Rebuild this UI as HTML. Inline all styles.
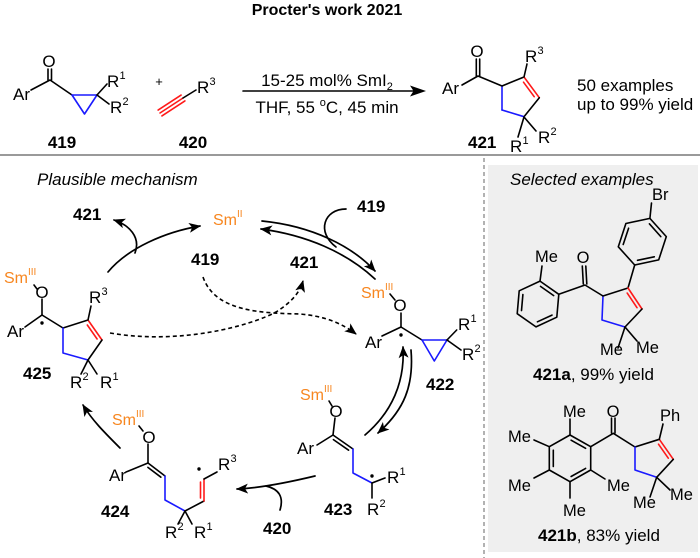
<!DOCTYPE html>
<html>
<head>
<meta charset="utf-8">
<style>
  html, body { margin: 0; padding: 0; background: #ffffff; }
  body { width: 700px; height: 558px; overflow: hidden; }
  svg { display: block; }
  text { font-family: "Liberation Sans", Arial, sans-serif; }
  .b { font-weight: bold; }
  .sm { fill: #f7861f; }
</style>
</head>
<body>
<svg width="700" height="558" viewBox="0 0 700 558" xmlns="http://www.w3.org/2000/svg">
  <defs>
    <marker id="ah" viewBox="0 0 12 10" refX="11" refY="5" markerWidth="12" markerHeight="10" markerUnits="userSpaceOnUse" orient="auto">
      <path d="M0,0 L12,5 L0,10 L3,5 z" fill="#000"/>
    </marker>
  </defs>

  <!-- right panel background -->
  <rect x="488" y="165" width="210" height="387" fill="#efefef"/>
  <line x1="484" y1="158" x2="484" y2="558" stroke="#888" stroke-width="1.3" stroke-dasharray="4 3"/>
  <!-- separator -->
  <line x1="0" y1="155" x2="700" y2="155" stroke="#9a9a9a" stroke-width="2"/>

  <!-- Title -->
  <text x="327" y="15" font-size="16" class="b" text-anchor="middle">Procter's work 2021</text>

  <!-- ================= TOP REACTION ================= -->
  <g stroke="#000" stroke-width="1.6" fill="none" stroke-linejoin="round" stroke-linecap="round">
    <!-- 419 -->
    <polyline points="31,90 50,80 72,95"/>
    <line x1="48" y1="69" x2="48" y2="80"/>
    <line x1="51.5" y1="69" x2="51.5" y2="80"/>
    <polygon points="72,95 97,95 84.5,114" stroke="#1a1aff"/>
    <line x1="97" y1="95" x2="107" y2="84"/>
    <line x1="97" y1="95" x2="109" y2="104"/>
    <!-- 420 -->
    <line x1="160" y1="113" x2="183" y2="98" stroke="#ff1a1a"/>
    <line x1="158.1" y1="110.1" x2="181.1" y2="95.1" stroke="#ff1a1a"/>
    <line x1="161.9" y1="115.9" x2="184.9" y2="100.9" stroke="#ff1a1a"/>
    <line x1="183" y1="98" x2="196" y2="90"/>
    <!-- reaction arrow -->
    <line x1="243" y1="91" x2="414" y2="91"/>
    <!-- 421 -->
    <polyline points="462,85 478,76 502,86"/>
    <line x1="476.3" y1="59" x2="476.3" y2="76"/>
    <line x1="479.7" y1="59" x2="479.7" y2="76"/>
    <line x1="502" y1="110" x2="502" y2="86" stroke="#1a1aff"/>
    <line x1="502" y1="86" x2="524" y2="77"/>
    <line x1="524" y1="77" x2="539.3" y2="97.7" stroke="#ff1a1a"/>
    <line x1="523.5" y1="82.2" x2="534.2" y2="96.7" stroke="#ff1a1a"/>
    <line x1="539.3" y1="97.7" x2="524" y2="116.7"/>
    <line x1="524" y1="116.7" x2="502" y2="110" stroke="#1a1aff"/>
    <line x1="524" y1="77" x2="527" y2="64"/>
    <line x1="524" y1="117" x2="518" y2="137"/>
    <line x1="524" y1="117" x2="536" y2="131"/>
  </g>
  <polygon points="426,91 410,85.5 413.5,91 410,96.5" fill="#000"/>

  <text x="13" y="100" font-size="17">Ar</text>
  <text x="49" y="67" font-size="17" text-anchor="middle">O</text>
  <text x="107" y="87" font-size="17">R</text><text x="119.5" y="79" font-size="11">1</text>
  <text x="110" y="113" font-size="17">R</text><text x="122.5" y="105" font-size="11">2</text>
  <text x="62" y="148" font-size="17" class="b" text-anchor="middle">419</text>
  <text x="159" y="86" font-size="13" text-anchor="middle">+</text>
  <text x="197" y="93" font-size="17">R</text><text x="209.5" y="85" font-size="11">3</text>
  <text x="193" y="148" font-size="17" class="b" text-anchor="middle">420</text>

  <text x="327" y="86" font-size="17" text-anchor="middle">15-25 mol% SmI<tspan font-size="11" dy="4">2</tspan></text>
  <text x="327" y="113" font-size="17" text-anchor="middle">THF, 55 <tspan font-size="11" dy="-7">o</tspan><tspan dy="7">C, 45 min</tspan></text>

  <text x="477" y="57" font-size="17" text-anchor="middle">O</text>
  <text x="442" y="94" font-size="17">Ar</text>
  <text x="525" y="62" font-size="17">R</text><text x="537.5" y="54" font-size="11">3</text>
  <text x="510" y="152" font-size="17">R</text><text x="522.5" y="144" font-size="11">1</text>
  <text x="538" y="143" font-size="17">R</text><text x="550.5" y="135" font-size="11">2</text>
  <text x="468" y="148" font-size="17" class="b">421</text>

  <text x="577" y="91" font-size="17">50 examples</text>
  <text x="577" y="110" font-size="17">up to 99% yield</text>

  <!-- ================= MECHANISM ================= -->
  <text x="37" y="185" font-size="17" font-style="italic">Plausible mechanism</text>

  <text x="73" y="220" font-size="17" class="b">421</text>
  <text x="213" y="225" font-size="16" class="sm">Sm</text><text x="237" y="217" font-size="10" class="sm">II</text>
  <text x="357" y="212" font-size="17" class="b">419</text>
  <text x="191" y="265" font-size="17" class="b">419</text>
  <text x="290" y="268" font-size="17" class="b">421</text>

  <!-- arrows -->
  <g stroke="#000" stroke-width="1.7" fill="none" stroke-linecap="round">
    <path d="M108,272 C128,248 165,232 200,226" marker-end="url(#ah)"/>
    <path d="M135,253 C141,237 129,225 114,220" marker-end="url(#ah)"/>
    <path d="M262,221 C312,226 352,246 375,271" marker-end="url(#ah)"/>
    <path d="M375,279 C346,252 306,235 261,229" marker-end="url(#ah)"/>
    <path d="M346,209 C324,209 316,232 336,247"/>
    <path d="M365,435 C392,412 405,382 403,347" marker-end="url(#ah)"/>
    <path d="M411,350 C414,386 404,410 378,433" marker-end="url(#ah)"/>
    <path d="M315,476 C290,482 262,488 237,489" marker-end="url(#ah)"/>
    <path d="M280,510 C284,497 279,489 266,486"/>
    <path d="M120,448 C104,432 92,420 83,405" marker-end="url(#ah)"/>
  </g>
  <g stroke="#000" stroke-width="1.6" fill="none" stroke-dasharray="4 3">
    <path d="M203,277 C215,312 262,313 300,314 C325,316 343,324 356,334" marker-end="url(#ah)"/>
    <path d="M110,333 C180,345 250,326 276,312 C292,302 300,292 303,281" marker-end="url(#ah)"/>
  </g>

  <!-- structure bonds -->
  <g stroke="#000" stroke-width="1.6" fill="none" stroke-linejoin="round" stroke-linecap="round">
    <!-- 425 -->
    <line x1="34" y1="285" x2="37" y2="289"/>
    <line x1="42" y1="299" x2="42" y2="315"/>
    <line x1="25" y1="327" x2="42" y2="315"/>
    <line x1="42" y1="315" x2="63" y2="328"/>
    <line x1="63" y1="328" x2="88" y2="320"/>
    <line x1="88" y1="320" x2="102" y2="340" stroke="#ff1a1a"/>
    <line x1="87.3" y1="325" x2="97.1" y2="339" stroke="#ff1a1a"/>
    <line x1="102" y1="340" x2="88" y2="360"/>
    <polyline points="88,360 63,353 63,328" stroke="#1a1aff"/>
    <line x1="88" y1="320" x2="91" y2="306"/>
    <line x1="88" y1="360" x2="81" y2="374"/>
    <line x1="88" y1="360" x2="97" y2="374"/>
    <!-- 422 -->
    <line x1="390" y1="294" x2="395" y2="300"/>
    <line x1="401" y1="313" x2="401" y2="327"/>
    <line x1="382" y1="336" x2="401" y2="327"/>
    <line x1="401" y1="327" x2="422" y2="340"/>
    <polygon points="422,340 447,340 434.3,361" stroke="#1a1aff"/>
    <line x1="447" y1="340" x2="456.7" y2="330"/>
    <line x1="447" y1="340" x2="461" y2="350"/>
    <!-- 423 -->
    <line x1="329" y1="401" x2="332" y2="406"/>
    <line x1="335" y1="418" x2="333" y2="435"/>
    <line x1="317" y1="445" x2="333" y2="435"/>
    <line x1="333" y1="435" x2="353" y2="449"/>
    <line x1="333.4" y1="439.6" x2="348.6" y2="450.2"/>
    <polyline points="353,449 353,473 372,483" stroke="#1a1aff"/>
    <line x1="372" y1="483" x2="385" y2="478"/>
    <line x1="372" y1="483" x2="372" y2="498"/>
    <!-- 424 -->
    <line x1="139" y1="426" x2="143" y2="431"/>
    <line x1="148" y1="444" x2="148" y2="463"/>
    <line x1="126" y1="472" x2="148" y2="463"/>
    <line x1="148" y1="463" x2="165" y2="476"/>
    <line x1="147.9" y1="467.4" x2="160.9" y2="477.2"/>
    <polyline points="165,476 165,500 185,511" stroke="#1a1aff"/>
    <line x1="185" y1="511" x2="178" y2="524"/>
    <line x1="185" y1="511" x2="192" y2="524"/>
    <line x1="185" y1="511" x2="204" y2="501"/>
    <line x1="204" y1="501" x2="204" y2="479" stroke="#ff1a1a"/>
    <line x1="200.5" y1="498" x2="200.5" y2="482" stroke="#ff1a1a"/>
    <line x1="204" y1="479" x2="217" y2="472"/>
  </g>
  <!-- radical dots -->
  <circle cx="42" cy="323" r="1.7" fill="#000"/>
  <circle cx="401" cy="335" r="1.7" fill="#000"/>
  <circle cx="372" cy="476" r="1.7" fill="#000"/>
  <circle cx="199" cy="469" r="1.7" fill="#000"/>

  <!-- 425 labels -->
  <text x="4" y="283" font-size="16" class="sm">Sm</text><text x="28" y="275" font-size="10" class="sm">III</text>
  <text x="42" y="298" font-size="17" text-anchor="middle">O</text>
  <text x="7" y="337" font-size="17">Ar</text>
  <text x="89" y="303" font-size="17">R</text><text x="101.5" y="295" font-size="11">3</text>
  <text x="70" y="388" font-size="17">R</text><text x="82.5" y="380" font-size="11">2</text>
  <text x="100" y="388" font-size="17">R</text><text x="112.5" y="380" font-size="11">1</text>
  <text x="23" y="379" font-size="17" class="b">425</text>

  <!-- 422 labels -->
  <text x="361" y="298" font-size="16" class="sm">Sm</text><text x="385" y="290" font-size="10" class="sm">III</text>
  <text x="400" y="311" font-size="17" text-anchor="middle">O</text>
  <text x="365" y="348" font-size="17">Ar</text>
  <text x="458" y="330" font-size="17">R</text><text x="470.5" y="322" font-size="11">1</text>
  <text x="462" y="360" font-size="17">R</text><text x="474.5" y="352" font-size="11">2</text>
  <text x="426" y="390" font-size="17" class="b">422</text>

  <!-- 423 labels -->
  <text x="300" y="400" font-size="16" class="sm">Sm</text><text x="324" y="392" font-size="10" class="sm">III</text>
  <text x="336" y="417" font-size="17" text-anchor="middle">O</text>
  <text x="297" y="454" font-size="17">Ar</text>
  <text x="387" y="483" font-size="17">R</text><text x="399.5" y="475" font-size="11">1</text>
  <text x="367" y="515" font-size="17">R</text><text x="379.5" y="507" font-size="11">2</text>
  <text x="324" y="515" font-size="17" class="b">423</text>
  <text x="263" y="534" font-size="17" class="b">420</text>

  <!-- 424 labels -->
  <text x="112" y="425" font-size="16" class="sm">Sm</text><text x="136" y="417" font-size="10" class="sm">III</text>
  <text x="149" y="443" font-size="17" text-anchor="middle">O</text>
  <text x="109" y="481" font-size="17">Ar</text>
  <text x="165" y="538" font-size="17">R</text><text x="177.5" y="530" font-size="11">2</text>
  <text x="194" y="538" font-size="17">R</text><text x="206.5" y="530" font-size="11">1</text>
  <text x="218" y="470" font-size="17">R</text><text x="230.5" y="462" font-size="11">3</text>
  <text x="101" y="517" font-size="17" class="b">424</text>

  <!-- ================= SELECTED EXAMPLES ================= -->
  <text x="510" y="185" font-size="17" font-style="italic">Selected examples</text>

  <g stroke="#000" stroke-width="1.6" fill="none" stroke-linejoin="round" stroke-linecap="round">
    <!-- 421a bromophenyl -->
    <line x1="649.9" y1="218.4" x2="651.5" y2="203"/>
    <polygon points="649.9,218.4 666.3,236.6 658.7,259.9 634.7,265 618.3,246.8 625.9,223.5"/>
    <line x1="649.4" y1="223.8" x2="660.8" y2="236.6"/>
    <line x1="654.3" y1="256.8" x2="637.5" y2="260.3"/>
    <line x1="623.2" y1="244.5" x2="628.6" y2="228.2"/>
    <line x1="634.7" y1="265" x2="628" y2="288"/>
    <!-- 421a cyclopentene -->
    <line x1="603" y1="296" x2="628" y2="288"/>
    <line x1="628" y1="288" x2="642" y2="309" stroke="#ff1a1a"/>
    <line x1="627.2" y1="293.1" x2="637" y2="307.7" stroke="#ff1a1a"/>
    <line x1="642" y1="309" x2="625" y2="327"/>
    <polyline points="625,327 602,320 603,296" stroke="#1a1aff"/>
    <line x1="625" y1="327" x2="618" y2="348"/>
    <line x1="625" y1="327" x2="637" y2="341"/>
    <!-- 421a carbonyl -->
    <polyline points="558.8,294.3 585,285 603,296"/>
    <line x1="582.3" y1="266" x2="583.3" y2="284"/>
    <line x1="585.8" y1="266" x2="586.8" y2="284"/>
    <!-- 421a tolyl -->
    <polygon points="540,281.1 558.8,294.3 556.8,317.2 536,326.9 517.2,313.7 519.2,290.8"/>
    <line x1="540.5" y1="286.4" x2="553.7" y2="295.6"/>
    <line x1="552" y1="315.1" x2="537.4" y2="321.8"/>
    <line x1="521.5" y1="310.6" x2="522.9" y2="294.5"/>
    <line x1="540" y1="281.1" x2="542" y2="266"/>

    <!-- 421b aryl -->
    <polygon points="570,435 590.7,446.7 590.7,470 570,481.7 549.3,470 549.3,446.7"/>
    <line x1="571.1" y1="440.2" x2="585.6" y2="448.3"/>
    <line x1="585.6" y1="468.4" x2="571.1" y2="476.5"/>
    <line x1="553.3" y1="466.5" x2="553.3" y2="450.2"/>
    <line x1="570" y1="435" x2="570" y2="419"/>
    <line x1="549.3" y1="446.7" x2="534" y2="440"/>
    <line x1="549.3" y1="470" x2="534" y2="478"/>
    <line x1="570" y1="481.7" x2="570" y2="498"/>
    <line x1="590.7" y1="470" x2="605" y2="479"/>
    <!-- 421b carbonyl -->
    <polyline points="590.7,446.7 613.3,433.3 635,447"/>
    <line x1="611.5" y1="418" x2="611.5" y2="433"/>
    <line x1="615" y1="418" x2="615" y2="433"/>
    <!-- 421b cyclopentene -->
    <line x1="635" y1="447" x2="659.3" y2="439.3"/>
    <line x1="659.3" y1="439.3" x2="673.3" y2="459.3" stroke="#ff1a1a"/>
    <line x1="658.5" y1="444.2" x2="668.3" y2="458.2" stroke="#ff1a1a"/>
    <line x1="673.3" y1="459.3" x2="656.7" y2="477.3"/>
    <polyline points="656.7,477.3 635,470 635,447" stroke="#1a1aff"/>
    <line x1="659.3" y1="439.3" x2="663" y2="424"/>
    <line x1="656.7" y1="477.3" x2="650" y2="497"/>
    <line x1="656.7" y1="477.3" x2="670" y2="490"/>
  </g>

  <!-- 421a labels -->
  <text x="652" y="200" font-size="16.5">Br</text>
  <text x="535" y="262" font-size="16.5">Me</text>
  <text x="583" y="263" font-size="16.5" text-anchor="middle">O</text>
  <text x="600" y="355" font-size="16.5">Me</text>
  <text x="636" y="353" font-size="16.5">Me</text>
  <text x="533" y="380" font-size="17"><tspan font-weight="bold">421a</tspan>, 99% yield</text>

  <!-- 421b labels -->
  <text x="613" y="417" font-size="16.5" text-anchor="middle">O</text>
  <text x="660" y="421" font-size="16.5">Ph</text>
  <text x="563" y="417" font-size="16.5">Me</text>
  <text x="508" y="442" font-size="16.5">Me</text>
  <text x="508" y="491" font-size="16.5">Me</text>
  <text x="563" y="516" font-size="16.5">Me</text>
  <text x="607" y="491" font-size="16.5">Me</text>
  <text x="633" y="508" font-size="16.5">Me</text>
  <text x="670" y="500" font-size="16.5">Me</text>
  <text x="538" y="541" font-size="17"><tspan font-weight="bold">421b</tspan>, 83% yield</text>
</svg>
</body>
</html>
